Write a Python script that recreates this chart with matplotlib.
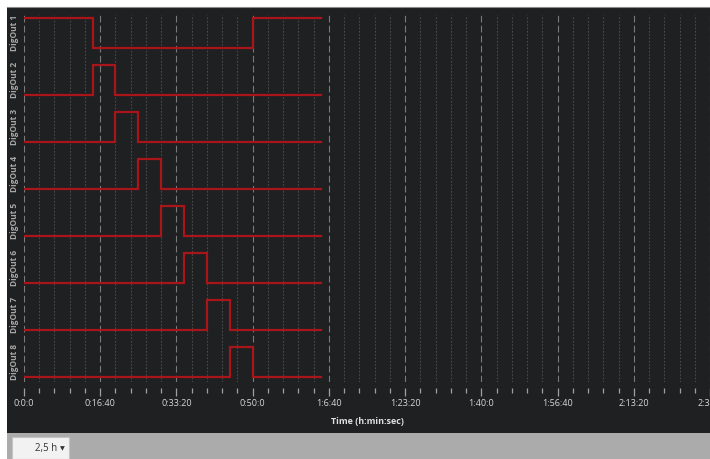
import matplotlib
matplotlib.use("Agg")
import numpy as np
import matplotlib.pyplot as plt
from matplotlib.patches import Rectangle
from matplotlib.ticker import MultipleLocator, FuncFormatter

plt.rcParams['font.family'] = ['Open Sans', 'DejaVu Sans']

# switching times (seconds) and the on/off state of each output after that time
times = [0, 900, 1200, 1500, 1800, 2100, 2400, 2700, 3000, 3900]
channels = ['DigOut 1', 'DigOut 2', 'DigOut 3', 'DigOut 4',
            'DigOut 5', 'DigOut 6', 'DigOut 7', 'DigOut 8']
states = [
    [1, 0, 0, 0, 0, 0, 0, 0, 1, 1],
    [0, 1, 0, 0, 0, 0, 0, 0, 0, 0],
    [0, 0, 1, 0, 0, 0, 0, 0, 0, 0],
    [0, 0, 0, 1, 0, 0, 0, 0, 0, 0],
    [0, 0, 0, 0, 1, 0, 0, 0, 0, 0],
    [0, 0, 0, 0, 0, 1, 0, 0, 0, 0],
    [0, 0, 0, 0, 0, 0, 1, 0, 0, 0],
    [0, 0, 0, 0, 0, 0, 0, 1, 0, 0],
]
x_max = 9000
range_label = '2,5 h'

W, H = 710, 459
bg = '#1f2022'
red = '#a8161a'

fig = plt.figure(figsize=(W / 100, H / 100), dpi=100)
fig.patch.set_facecolor('white')

# dark panel and grey bottom bar
fig.add_artist(Rectangle((7 / W, (H - 433) / H), 1, (433 - 7) / H,
                         transform=fig.transFigure, facecolor=bg,
                         edgecolor='none', zorder=0))
fig.add_artist(Rectangle((7 / W, 0), 1, (H - 433) / H,
                         transform=fig.transFigure, facecolor='#ababab',
                         edgecolor='none', zorder=0))
fig.add_artist(plt.Line2D([7 / W, 1], [(H - 7) / H] * 2, color='#8a8a8a',
                          lw=0.8, transform=fig.transFigure))
# dropdown box
fig.add_artist(Rectangle((12 / W, 0), 57 / W, (H - 437) / H,
                         transform=fig.transFigure, facecolor='#f2f2f2',
                         edgecolor='#c4c4c4', lw=0.8, zorder=1))
fig.text(46 / W, (H - 449) / H, range_label, fontsize=7, color='#333333',
         ha='center', va='center')
fig.text(62 / W, (H - 449) / H, '\u25BC', fontsize=4.5, color='#333333',
         ha='center', va='center', family=['DejaVu Sans'])

ax = fig.add_axes([24 / W, (H - 382) / H, (W - 24) / W, 367 / H])
ax.set_facecolor('none')

gap = 47.0   # vertical distance between channels
amp = 30.0   # height of a high level
n = len(channels)
centers = []
for i, (name, st) in enumerate(zip(channels, states)):
    base = (n - 1 - i) * gap
    y = base + amp * np.array(st)
    ax.plot(times, y, drawstyle='steps-post', color=red, lw=1.6,
            solid_joinstyle='miter', zorder=3)
    centers.append(base + amp / 2)

ax.set_xlim(0, x_max)
ax.set_ylim(-5, (n - 1) * gap + amp + 3)

ax.xaxis.set_major_locator(MultipleLocator(1000))
ax.xaxis.set_minor_locator(MultipleLocator(200))


def hms(v, pos):
    v = int(round(v))
    return f"{v // 3600}:{(v % 3600) // 60}:{v % 60}"


ax.xaxis.set_major_formatter(FuncFormatter(hms))
ax.grid(which='major', axis='x', color='#7a7a7a', lw=0.8, ls=(0, (6, 3)))
ax.grid(which='minor', axis='x', color='#4a4a4a', lw=0.8, ls=(0, (1.5, 1.5)))

for s in ax.spines.values():
    s.set_visible(False)
ax.spines['bottom'].set_visible(True)
ax.spines['bottom'].set_color('none')
ax.spines['bottom'].set_position(('outward', 4.5))

ax.tick_params(axis='x', which='major', length=5.5, width=0.9, color='#a0a0a0',
               labelsize=6.5, labelcolor='#d8d8d8', pad=2.5)
ax.tick_params(axis='x', which='minor', length=3.5, width=0.9, color='#a0a0a0')

ax.set_yticks(centers)
ax.set_yticklabels(channels, rotation=90, va='center', fontsize=6,
                   fontweight='bold', color='#a8a8a8')
ax.tick_params(axis='y', length=0, pad=3.5)

fig.text((24 + 710) / 2 / W, (H - 422) / H, 'Time (h:min:sec)', fontsize=6.5,
         fontweight='bold', color='#e0e0e0', ha='center', va='center')

fig.savefig('out.png', dpi=100, facecolor=fig.get_facecolor())
